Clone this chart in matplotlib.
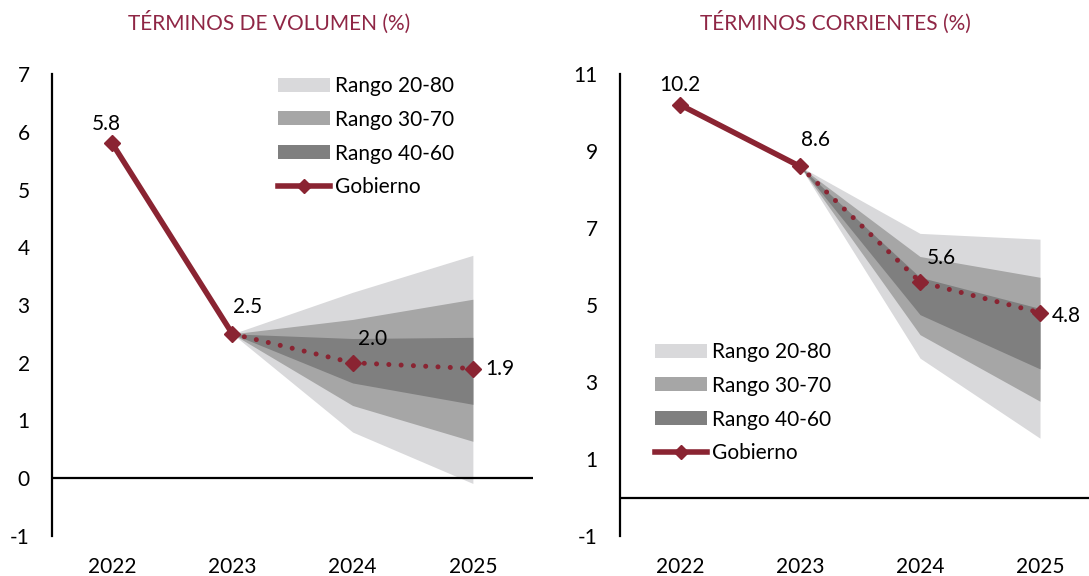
import matplotlib
matplotlib.use("Agg")
import matplotlib.pyplot as plt
from matplotlib.patches import Patch
from matplotlib.lines import Line2D

plt.rcParams['font.family'] = ['Lato', 'DejaVu Sans']

# ---------------- data ----------------
years = ['2022', '2023', '2024', '2025']
fan_idx = [1, 2, 3]  # 2023..2025

vol_gov = [5.8, 2.5, 2.0, 1.9]
vol_p20 = [2.5, 0.80, -0.09]
vol_p80 = [2.5, 3.22, 3.86]
vol_p30 = [2.5, 1.26, 0.64]
vol_p70 = [2.5, 2.75, 3.10]
vol_p40 = [2.5, 1.65, 1.28]
vol_p60 = [2.5, 2.42, 2.44]

cor_gov = [10.2, 8.6, 5.6, 4.8]
cor_p20 = [8.6, 3.62, 1.54]
cor_p80 = [8.6, 6.86, 6.71]
cor_p30 = [8.6, 4.23, 2.50]
cor_p70 = [8.6, 6.26, 5.72]
cor_p40 = [8.6, 4.75, 3.34]
cor_p60 = [8.6, 5.72, 4.91]

vol_ticks = [-1, 0, 1, 2, 3, 4, 5, 6, 7]
cor_ticks = [-1, 1, 3, 5, 7, 9, 11]

range_labels = ['Rango 20-80', 'Rango 30-70', 'Rango 40-60']
gov_label = 'Gobierno'
titles = ['TÉRMINOS DE VOLUMEN (%)', 'TÉRMINOS CORRIENTES (%)']

# ---------------- style ----------------
C_LIGHT = '#D9D9DB'
C_MID = '#A6A6A6'
C_DARK = '#7F7F7F'
C_LINE = '#8A2432'
C_TITLE = '#8F2645'
FS = 15

W, H = 1089, 576
fig = plt.figure(figsize=(W / 100, H / 100), dpi=100)


def px_axes(x0, x1, ybot, ytop):
    return fig.add_axes([x0 / W, 1 - ybot / H, (x1 - x0) / W, (ybot - ytop) / H])


def draw_panel(ax, gov, bands, ylim, yticks, label_offsets):
    x_all = list(range(len(years)))
    (p20, p80), (p30, p70), (p40, p60) = bands
    ax.fill_between(fan_idx, p20, p80, color=C_LIGHT, lw=0, zorder=1)
    ax.fill_between(fan_idx, p30, p70, color=C_MID, lw=0, zorder=2)
    ax.fill_between(fan_idx, p40, p60, color=C_DARK, lw=0, zorder=3)
    ax.axhline(0, color='black', lw=1.6, zorder=4)
    # solid part
    ax.plot(x_all[:2], gov[:2], color=C_LINE, lw=4, solid_capstyle='butt', zorder=5)
    # dotted part
    ax.plot(x_all[1:], gov[1:], color=C_LINE, lw=3.6,
            linestyle=(0, (0.01, 2.45)), dash_capstyle='round', zorder=5)
    ax.plot(x_all, gov, linestyle='none', marker='D', ms=7.8,
            color=C_LINE, zorder=6)
    for i, v in enumerate(gov):
        dx, dy, ha = label_offsets[i]
        # dy given in pixels downward-positive -> convert to points upward
        ax.annotate(f'{v:.1f}', (i, v), xytext=(dx * 0.72, -dy * 0.72),
                    textcoords='offset points', ha=ha, va='center',
                    fontsize=FS, color='black', zorder=7)
    ax.set_xlim(-0.5, 3.5)
    ax.set_ylim(*ylim)
    ax.set_yticks(yticks)
    ax.set_yticklabels([str(t) for t in yticks])
    ax.set_xticks(x_all)
    ax.set_xticklabels(years)
    for s in ['top', 'right', 'bottom']:
        ax.spines[s].set_visible(False)
    ax.spines['left'].set_linewidth(1.6)
    ax.tick_params(axis='y', length=0, pad=16, labelsize=FS)
    ax.tick_params(axis='x', length=0, pad=15, labelsize=FS)
    ax.set_facecolor('none')


def add_legend(ax, x_px, y_px):
    handles = [Patch(facecolor=C_LIGHT, edgecolor='none'),
               Patch(facecolor=C_MID, edgecolor='none'),
               Patch(facecolor=C_DARK, edgecolor='none'),
               Line2D([0], [0], color=C_LINE, lw=4, marker='D', ms=7)]
    ax.legend(handles, range_labels + [gov_label], loc='upper left',
              bbox_to_anchor=(x_px / W, 1 - y_px / H), bbox_transform=fig.transFigure,
              frameon=False, fontsize=FS, handlelength=2.5, handleheight=0.65,
              handletextpad=0.25, labelspacing=0.66, borderpad=0, borderaxespad=0)


ax1 = px_axes(52, 533, 536, 74)
draw_panel(ax1, vol_gov,
           [(vol_p20, vol_p80), (vol_p30, vol_p70), (vol_p40, vol_p60)],
           (-1, 7), vol_ticks,
           [(-6, -19, 'center'), (15, -27, 'center'), (20, -24, 'center'), (12, 0, 'left')])
add_legend(ax1, 278, 76)

ax2 = px_axes(620, 1100, 536, 74)
draw_panel(ax2, cor_gov,
           [(cor_p20, cor_p80), (cor_p30, cor_p70), (cor_p40, cor_p60)],
           (-1, 11), cor_ticks,
           [(0, -20, 'center'), (15, -26, 'center'), (21, -24, 'center'), (12, 3, 'left')])
add_legend(ax2, 655, 342)

fig.text(269 / W, 1 - 22 / H, titles[0], ha='center', va='center',
         fontsize=15, color=C_TITLE)
fig.text(835 / W, 1 - 22 / H, titles[1], ha='center', va='center',
         fontsize=15, color=C_TITLE)

fig.savefig('out.png', dpi=100)
